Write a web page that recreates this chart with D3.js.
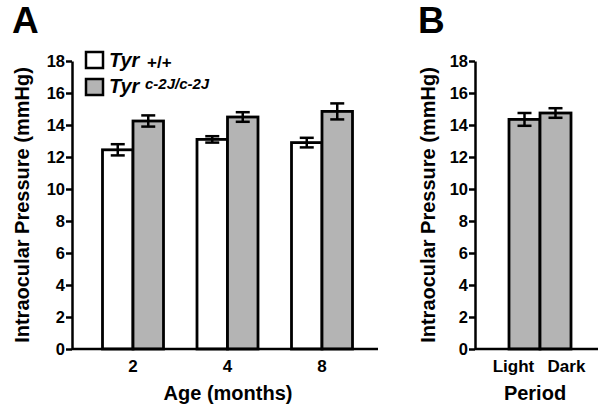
<!DOCTYPE html>
<html>
<head>
<meta charset="utf-8">
<script src="https://cdn.jsdelivr.net/npm/d3@7"></script>
<style>
  body { margin: 0; background: #fff; }
  svg { font-family: "Liberation Sans", Arial, Helvetica, sans-serif; font-weight: bold; }
</style>
</head>
<body>
<div id="chart"></div>
<script>
// panel A: IOP by age and genotype
var ages = ["2", "4", "8"];
var genotypes = ["wt", "mut"];
var wtMean = [12.45, 13.1, 12.9];
var wtErr = [0.35, 0.2, 0.3];
var mutMean = [14.25, 14.5, 14.85];
var mutErr = [0.35, 0.3, 0.5];

// panel B: IOP by light period
var periods = ["Light", "Dark"];
var periodMean = [14.35, 14.75];
var periodErr = [0.4, 0.3];

var yTicks = [0, 2, 4, 6, 8, 10, 12, 14, 16, 18];

var fills = { wt: "#ffffff", mut: "#b4b4b4" };

var svg = d3.select("#chart").append("svg")
    .attr("width", 600)
    .attr("height", 408);

var y = d3.scaleLinear().domain([0, 18]).range([349, 61]);

function yAxis(g) {
    g.call(d3.axisLeft(y).tickValues(yTicks).tickSize(6).tickSizeOuter(0).tickPadding(1));
    g.selectAll("path, line").attr("stroke", "#000").attr("stroke-width", 2.5);
    g.selectAll("text").attr("fill", "#000").style("font-size", "16.5px").style("font-weight", "bold");
}

function errBar(g, cx, m, e) {
    g.append("line").attr("x1", cx).attr("x2", cx).attr("y1", y(m - e)).attr("y2", y(m + e));
    g.append("line").attr("x1", cx - 7).attr("x2", cx + 7).attr("y1", y(m - e)).attr("y2", y(m - e));
    g.append("line").attr("x1", cx - 7).attr("x2", cx + 7).attr("y1", y(m + e)).attr("y2", y(m + e));
}

// ---------- panel A ----------
var A = svg.append("g");

var xA = d3.scalePoint().domain(ages).range([133, 322]);
var xSub = d3.scaleBand().domain(genotypes).range([-30.5, 30.5]);

var rowsA = ages.map(function (a, i) {
    return [
        { age: a, g: "wt", m: wtMean[i], e: wtErr[i] },
        { age: a, g: "mut", m: mutMean[i], e: mutErr[i] }
    ];
}).flat();

A.selectAll("rect.bar").data(rowsA).enter().append("rect")
    .attr("class", "bar")
    .attr("x", d => xA(d.age) + xSub(d.g))
    .attr("width", xSub.bandwidth())
    .attr("y", d => y(d.m))
    .attr("height", d => y(0) - y(d.m))
    .attr("fill", d => fills[d.g])
    .attr("stroke", "#000")
    .attr("stroke-width", 2.8);

var eA = A.append("g").attr("stroke", "#000").attr("stroke-width", 2.5);
rowsA.forEach(function (d) {
    errBar(eA, xA(d.age) + xSub(d.g) + xSub.bandwidth() / 2, d.m, d.e);
});

A.append("g").attr("transform", "translate(72,0)").call(yAxis);
A.append("line").attr("x1", 72).attr("x2", 378).attr("y1", y(0)).attr("y2", y(0))
    .attr("stroke", "#000").attr("stroke-width", 2.5);

A.selectAll("text.xt").data(ages).enter().append("text")
    .attr("class", "xt")
    .attr("x", d => xA(d)).attr("y", 372)
    .attr("text-anchor", "middle").style("font-size", "17px")
    .text(d => d);

A.append("text").attr("x", 228).attr("y", 400).attr("text-anchor", "middle")
    .style("font-size", "20px").text("Age (months)");

A.append("text").attr("transform", "translate(29,205) rotate(-90)").attr("text-anchor", "middle")
    .style("font-size", "20px").text("Intraocular Pressure (mmHg)");

A.append("text").attr("x", 12).attr("y", 33).style("font-size", "37px").text("A");

// legend
var leg = A.append("g");
leg.append("rect").attr("x", 86).attr("y", 52).attr("width", 17).attr("height", 16)
    .attr("fill", fills.wt).attr("stroke", "#000").attr("stroke-width", 2.5);
leg.append("rect").attr("x", 86).attr("y", 79).attr("width", 17).attr("height", 16)
    .attr("fill", fills.mut).attr("stroke", "#000").attr("stroke-width", 2.5);
leg.append("text").attr("x", 109).attr("y", 67).style("font-size", "20px").style("font-style", "italic").text("Tyr");
leg.append("text").attr("x", 147).attr("y", 68).style("font-size", "17px").text("+/+");
leg.append("text").attr("x", 109).attr("y", 93).style("font-size", "20px").style("font-style", "italic").text("Tyr");
leg.append("text").attr("x", 145).attr("y", 89).style("font-size", "15px").style("font-style", "italic").text("c-2J/c-2J");

// ---------- panel B ----------
var B = svg.append("g");

var xB = d3.scaleBand().domain(periods).range([509, 571]);

var rowsB = periods.map(function (p, i) {
    return { p: p, m: periodMean[i], e: periodErr[i] };
});

B.selectAll("rect.bar").data(rowsB).enter().append("rect")
    .attr("class", "bar")
    .attr("x", d => xB(d.p))
    .attr("width", xB.bandwidth())
    .attr("y", d => y(d.m))
    .attr("height", d => y(0) - y(d.m))
    .attr("fill", fills.mut)
    .attr("stroke", "#000")
    .attr("stroke-width", 2.8);

var eB = B.append("g").attr("stroke", "#000").attr("stroke-width", 2.5);
rowsB.forEach(function (d) {
    errBar(eB, xB(d.p) + xB.bandwidth() / 2, d.m, d.e);
});

B.append("g").attr("transform", "translate(475,0)").call(yAxis);
B.append("line").attr("x1", 475).attr("x2", 598).attr("y1", y(0)).attr("y2", y(0))
    .attr("stroke", "#000").attr("stroke-width", 2.5);

// labels pushed outward so they don't collide
B.selectAll("text.xt").data(periods).enter().append("text")
    .attr("class", "xt")
    .attr("x", (d, i) => xB(d) + xB.bandwidth() / 2 + (i == 0 ? -11 : 11)).attr("y", 372)
    .attr("text-anchor", "middle").style("font-size", "17px")
    .text(d => d);

B.append("text").attr("x", 535).attr("y", 400).attr("text-anchor", "middle")
    .style("font-size", "20px").text("Period");

B.append("text").attr("transform", "translate(435,205) rotate(-90)").attr("text-anchor", "middle")
    .style("font-size", "20px").text("Intraocular Pressure (mmHg)");

B.append("text").attr("x", 418).attr("y", 33).style("font-size", "37px").text("B");
</script>
</body>
</html>
